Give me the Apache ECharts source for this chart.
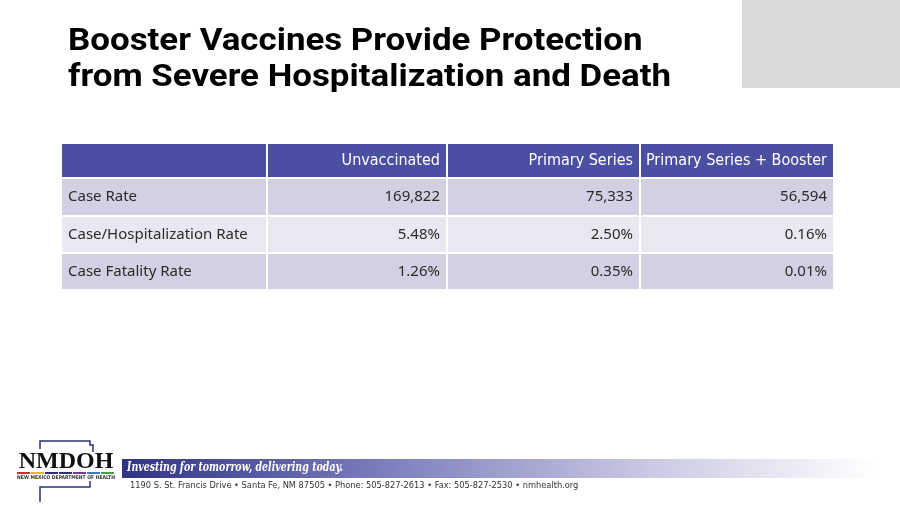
<!DOCTYPE html>
<html>
<head>
<meta charset="utf-8">
<script src="https://cdn.jsdelivr.net/npm/echarts@6/dist/echarts.min.js"></script>
<style>
html,body{margin:0;padding:0;background:#fff;}
#chart{width:900px;height:506px;}
</style>
</head>
<body>
<div id="chart"></div>
<script>
// table data
const titleLines = ['Booster Vaccines Provide Protection', 'from Severe Hospitalization and Death'];
const columns = ['', 'Unvaccinated', 'Primary Series', 'Primary Series + Booster'];
const rowLabels = ['Case Rate', 'Case/Hospitalization Rate', 'Case Fatality Rate'];
const unvaccinated = ['169,822', '5.48%', '1.26%'];
const primarySeries = ['75,333', '2.50%', '0.35%'];
const primaryBooster = ['56,594', '0.16%', '0.01%'];
const tagline = 'Investing for tomorrow, delivering today.';
const address = '1190 S. St. Francis Drive \u2022 Santa Fe, NM 87505 \u2022 Phone: 505-827-2613 \u2022 Fax: 505-827-2530 \u2022 nmhealth.org';

//表格布局
const colEdges = [62, 267, 447, 640, 833];
const rowEdges = [144, 178, 216, 253, 289];
const headerColor = '#4a4fa2';
const rowColors = ['#d2d1e4', '#e8e8f0', '#d2d1e4'];
const bodyFont = '"Noto Sans", "DejaVu Sans", sans-serif';
const narrowFont = '"Liberation Sans Narrow", "DejaVu Sans Condensed", sans-serif';

let chart = echarts.init(document.getElementById('chart'));
let elements = [];

// title block
elements.push({
    type:'rect',
    shape:{x:742, y:0, width:158, height:88},
    style:{fill:'#d9d8da'}
});
titleLines.forEach(function(line, i) {
    elements.push({
        type:'text',
        x:68, y:42 + i*36,
        scaleX:1.09,
        style:{
            text:line,
            font:'bold 32px Roboto, "Liberation Sans", sans-serif',
            fill:'#000',
            verticalAlign:'middle'
        }
    });
});

// cells
const bodyCols = [rowLabels, unvaccinated, primarySeries, primaryBooster];
for(let r=0;r<4;r++){
    for(let c=0;c<4;c++){
        let x0 = colEdges[c] + (c>0?1:0);
        let x1 = colEdges[c+1] - (c<3?1:0);
        let y0 = rowEdges[r] + (r>0?1:0);
        let y1 = rowEdges[r+1] - (r<3?1:0);
        elements.push({
            type:'rect',
            shape:{x:x0, y:y0, width:x1-x0, height:y1-y0},
            style:{fill:r===0?headerColor:rowColors[r-1]}
        });
        let text = r===0 ? columns[c] : bodyCols[c][r-1];
        if(!text){
            continue;
        }
        let left = c===0;
        elements.push({
            type:'text',
            x:left ? x0+6 : x1-6,
            y:(y0+y1)/2,
            style:{
                text:text,
                font:(r===0 ? '16px ' + narrowFont : '15px ' + bodyFont),
                fill:r===0 ? '#fff' : '#2a2a2a',
                align:left?'left':'right',
                verticalAlign:'middle'
            }
        });
    }
}

// footer banner
elements.push({
    type:'rect',
    shape:{x:122, y:459, width:755, height:19},
    style:{
        fill:new echarts.graphic.LinearGradient(0,0,1,0,[
            {offset:0, color:'#2f3384'},
            {offset:0.35, color:'#7c7fbd'},
            {offset:0.7, color:'#c9c9e3'},
            {offset:1, color:'#ffffff'}
        ])
    }
});
elements.push({
    type:'text',
    x:127, y:468,
    scaleX:0.84,
    style:{
        text:tagline,
        font:'italic bold 12.5px "DejaVu Serif Condensed", "DejaVu Serif", serif',
        fill:'#fff',
        verticalAlign:'middle'
    }
});
elements.push({
    type:'text',
    x:130, y:486,
    style:{
        text:address,
        font:'9.2px ' + narrowFont,
        fill:'#333',
        verticalAlign:'middle'
    }
});

// logo
const navy = '#2e3170';
elements.push({
    type:'polyline',
    shape:{points:[[40,449],[40,441],[90,441],[90,445],[93,445],[93,452]]},
    style:{stroke:navy, lineWidth:1.5, fill:null}
});
elements.push({
    type:'polyline',
    shape:{points:[[40,502],[40,487],[90,487],[90,481]]},
    style:{stroke:navy, lineWidth:1.5, fill:null}
});
elements.push({
    type:'text',
    x:66, y:462,
    style:{
        text:'NMDOH',
        font:'bold 24px "Liberation Serif", "DejaVu Serif", serif',
        fill:'#111',
        align:'center',
        verticalAlign:'middle'
    }
});
const stripe = ['#c4342d', '#e2b92f', '#2e3170', '#2e3170', '#6a3c8e', '#3f7ac0', '#4c9b4a'];
stripe.forEach(function(color, i) {
    elements.push({
        type:'rect',
        shape:{x:17 + i*14, y:472, width:13, height:2},
        style:{fill:color}
    });
});
elements.push({
    type:'text',
    x:66, y:478,
    style:{
        text:'NEW MEXICO DEPARTMENT OF HEALTH',
        font:'bold 5px "DejaVu Sans Condensed", sans-serif',
        fill:'#333',
        align:'center',
        verticalAlign:'middle'
    }
});

chart.setOption({
    animation:false,
    graphic:{elements:elements}
});
</script>
</body>
</html>
